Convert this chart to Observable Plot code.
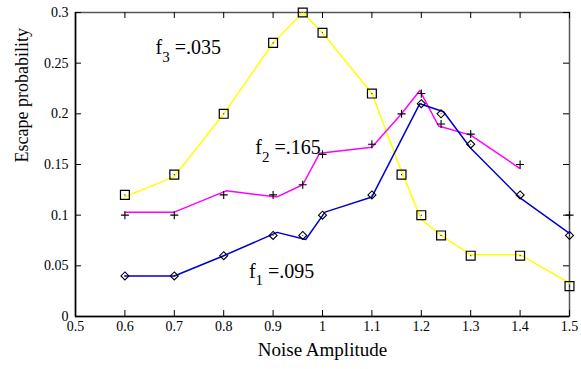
<!DOCTYPE html>
<html><head><meta charset="utf-8">
<script src="https://cdn.jsdelivr.net/npm/d3@7"></script>
<script src="https://cdn.jsdelivr.net/npm/@observablehq/plot@0.6"></script>
<style>
body{margin:0;background:#fff;}
svg{display:block;}
</style>
</head><body><div id="chart"></div>
<script>
// tick values
const xTicks = [0.5,0.6,0.7,0.8,0.9,1.0,1.1,1.2,1.3,1.4,1.5];
const yTicks = [0,0.05,0.1,0.15,0.2,0.25,0.3];

// f3 = .035 (yellow, squares)
const f3PointX = [0.6,0.7,0.8,0.9,0.96,1.0,1.1,1.16,1.2,1.24,1.3,1.4,1.5];
const f3PointY = [0.12,0.14,0.2,0.27,0.3,0.28,0.22,0.14,0.1,0.08,0.06,0.06,0.03];
const f3LineX  = [0.6,0.7,0.8,0.9,0.96,1.0,1.1,1.16,1.2,1.24,1.3,1.4,1.5];
const f3LineY  = [0.118,0.138,0.2,0.27,0.3,0.28,0.22,0.143,0.096,0.08,0.061,0.061,0.033];

// f2 = .165 (magenta, plus)
const f2PointX = [0.6,0.7,0.8,0.9,0.96,1.0,1.1,1.16,1.2,1.24,1.3,1.4,1.5];
const f2PointY = [0.1,0.1,0.12,0.12,0.13,0.16,0.17,0.2,0.22,0.19,0.18,0.15,0.1];
const f2LineX  = [0.6,0.7,0.805,0.908,0.96,0.994,1.1,1.16,1.197,1.235,1.3,1.4];
const f2LineY  = [0.103,0.103,0.124,0.118,0.13,0.161,0.167,0.2,0.223,0.188,0.179,0.146];

// f1 = .095 (blue, diamonds)
const f1PointX = [0.6,0.7,0.8,0.9,0.96,1.0,1.1,1.2,1.24,1.3,1.4,1.5];
const f1PointY = [0.04,0.04,0.06,0.08,0.08,0.1,0.12,0.21,0.2,0.17,0.12,0.08];
const f1LineX  = [0.6,0.7,0.8,0.908,0.966,1.005,1.1,1.197,1.245,1.3,1.4,1.5];
const f1LineY  = [0.04,0.04,0.06,0.083,0.076,0.103,0.118,0.21,0.202,0.166,0.117,0.082];

// annotation labels
const labelName = ["f","f","f"];
const labelSub  = ["3","2","1"];
const labelRest = [" =.035"," =.165"," =.095"];
const labelX    = [0.662,0.864,0.851];
const labelY    = [0.2655,0.1668,0.0448];

const zipXY = (xs, ys) => xs.map((x, i) => ({x, y: ys[i]}));
const f3Pts = zipXY(f3PointX, f3PointY), f3Line = zipXY(f3LineX, f3LineY);
const f2Pts = zipXY(f2PointX, f2PointY), f2Line = zipXY(f2LineX, f2LineY);
const f1Pts = zipXY(f1PointX, f1PointY), f1Line = zipXY(f1LineX, f1LineY);
const labels = labelName.map((n, i) => ({n, s: labelSub[i], r: labelRest[i], x: labelX[i], y: labelY[i]}));

const fmt = d => String(+(+d).toFixed(2));
const FONT = "'Liberation Serif', 'Times New Roman', serif";

const chart = Plot.plot({
  width: 581,
  height: 369,
  marginLeft: 75,
  marginRight: 12,
  marginTop: 12,
  marginBottom: 53,
  style: {fontFamily: FONT, background: "#fff", color: "#000"},
  x: {domain: [0.5, 1.5]},
  y: {domain: [0, 0.3]},
  marks: [
    Plot.frame({stroke: "#555", strokeWidth: 1.5}),
    Plot.ruleX([xTicks[0]], {stroke: "#000", strokeWidth: 1.5}),
    Plot.ruleY([yTicks[0]], {stroke: "#000", strokeWidth: 1.5}),
    // inward ticks on all four sides
    Plot.tickX(xTicks, {x: d => d, insetTop: 298, stroke: "#000"}),
    Plot.tickX(xTicks, {x: d => d, insetBottom: 298, stroke: "#000"}),
    Plot.tickY(yTicks, {y: d => d, insetRight: 488, stroke: "#000"}),
    Plot.tickY(yTicks, {y: d => d, insetLeft: 488, stroke: "#000"}),
    Plot.axisX({ticks: xTicks, tickSize: 0, tickPadding: 5, tickFormat: fmt, label: null, fontSize: 14}),
    Plot.axisY({ticks: yTicks, tickSize: 0, tickPadding: 7, tickFormat: fmt, label: null, fontSize: 14}),
    Plot.text(["Noise Amplitude"], {frameAnchor: "bottom", dy: 39, fontSize: 19, fill: "#000"}),
    Plot.text(["Escape probability"], {frameAnchor: "left", dx: -53, dy: -2, rotate: -90, fontSize: 18, fill: "#000"}),
    // fitted lines
    Plot.line(f3Line, {x: "x", y: "y", stroke: "#ffff00", strokeWidth: 1.5}),
    Plot.line(f2Line, {x: "x", y: "y", stroke: "#ff00ff", strokeWidth: 1.5}),
    Plot.line(f1Line, {x: "x", y: "y", stroke: "#0000cc", strokeWidth: 1.5}),
    // data points
    Plot.dot(f3Pts, {x: "x", y: "y", symbol: "square", r: 5, stroke: "#000", strokeWidth: 1.2, fill: "none"}),
    Plot.dot(f3Pts, {x: "x", y: "y", r: 0.6, fill: "#000", stroke: "none"}),
    Plot.dot(f1Pts, {x: "x", y: "y", symbol: "diamond2", r: 3.6, stroke: "#000", strokeWidth: 1.1, fill: "none"}),
    Plot.dot(f1Pts, {x: "x", y: "y", r: 0.5, fill: "#000", stroke: "none"}),
    Plot.dot(f2Pts, {x: "x", y: "y", symbol: "plus", r: 2.7, stroke: "#000", strokeWidth: 1.1}),
    // annotations
    Plot.text(labels, {x: "x", y: "y", text: d => d.n + d.s + d.r, textAnchor: "start", fontSize: 20, fill: "#000", className: "flabel"})
  ]
});

// subscripts for annotation labels
d3.select(chart).selectAll("g.flabel text").each(function(d, i) {
  const lab = labels[i];
  const t = d3.select(this);
  t.text(null);
  t.append("tspan").text(lab.n);
  t.append("tspan").attr("dy", "8").attr("font-size", "15").text(lab.s);
  t.append("tspan").attr("dy", "-8").text(lab.r);
});

document.getElementById("chart").appendChild(chart);
</script>
</body></html>
